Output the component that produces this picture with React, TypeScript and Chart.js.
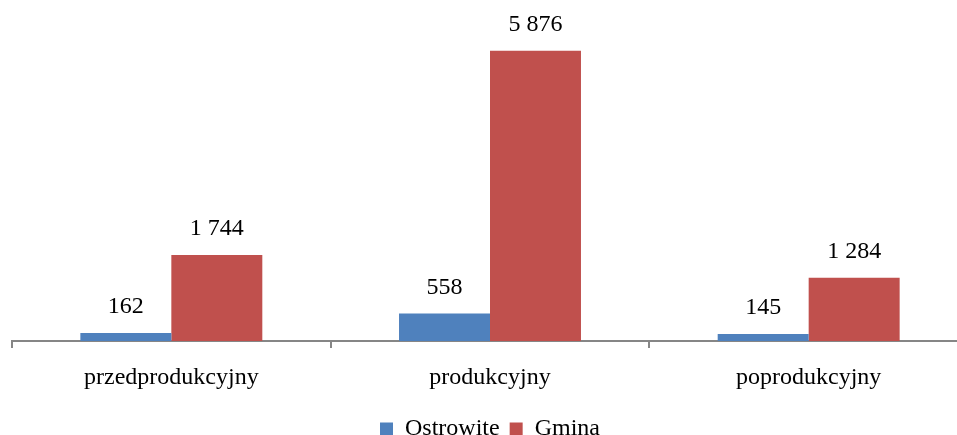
import React, { useEffect, useRef } from "react";
import { Chart, registerables } from "chart.js";

Chart.register(...registerables);

const categories = ["przedprodukcyjny", "produkcyjny", "poprodukcyjny"];
const ostrowite = [162, 558, 145];
const gmina = [1744, 5876, 1284];
const seriesNames = ["Ostrowite", "Gmina"];
const colors = ["#4F81BD", "#C0504D"];

const FONT = "'Liberation Serif', 'Times New Roman', serif";

function fmt(v: number): string {
  return String(v).replace(/\B(?=(\d{3})+(?!\d))/g, " ");
}

const labelPlugin = {
  id: "barLabels",
  afterDatasetsDraw(chart: any) {
    const ctx = chart.ctx;
    ctx.save();
    ctx.font = `24px ${FONT}`;
    ctx.fillStyle = "#000";
    ctx.textAlign = "center";
    ctx.textBaseline = "middle";
    chart.data.datasets.forEach((ds: any, i: number) => {
      const meta = chart.getDatasetMeta(i);
      meta.data.forEach((bar: any, j: number) => {
        ctx.fillText(fmt(ds.data[j]), bar.x, bar.y - 26);
      });
    });
    ctx.restore();
  },
};

export default function App() {
  const ref = useRef<HTMLCanvasElement | null>(null);
  useEffect(() => {
    document.body.style.margin = "0";
    const chart = new Chart(ref.current as HTMLCanvasElement, {
      type: "bar",
      data: {
        labels: categories,
        datasets: [
          { label: seriesNames[0], data: ostrowite, backgroundColor: colors[0] },
          { label: seriesNames[1], data: gmina, backgroundColor: colors[1] },
        ],
      },
      options: {
        responsive: false,
        animation: false,
        layout: { padding: { left: 12, right: 20, top: 5, bottom: -16 } },
        datasets: { bar: { categoryPercentage: 0.571, barPercentage: 1 } },
        scales: {
          x: {
            grid: {
              offset: true,
              drawOnChartArea: false,
              drawTicks: true,
              tickLength: 7,
              color: "#868686",
              lineWidth: 2,
            },
            border: { color: "#868686", width: 2 },
            ticks: {
              font: { family: FONT, size: 24, lineHeight: 0.87 },
              color: "#000",
              padding: 19,
            },
          },
          y: { display: false, min: 0, max: 6800 },
        },
        plugins: {
          legend: {
            position: "bottom",
            labels: {
              boxWidth: 13,
              boxHeight: 13,
              font: { family: FONT, size: 24 },
              color: "#000",
              padding: 10,
            },
          },
          tooltip: { enabled: false },
        },
      },
      plugins: [labelPlugin],
    });
    return () => chart.destroy();
  }, []);
  return (
    <div style={{ width: 957, height: 435, overflow: "hidden", background: "#fff" }}>
      <canvas ref={ref} width={988} height={435} style={{ display: "block" }} />
    </div>
  );
}
